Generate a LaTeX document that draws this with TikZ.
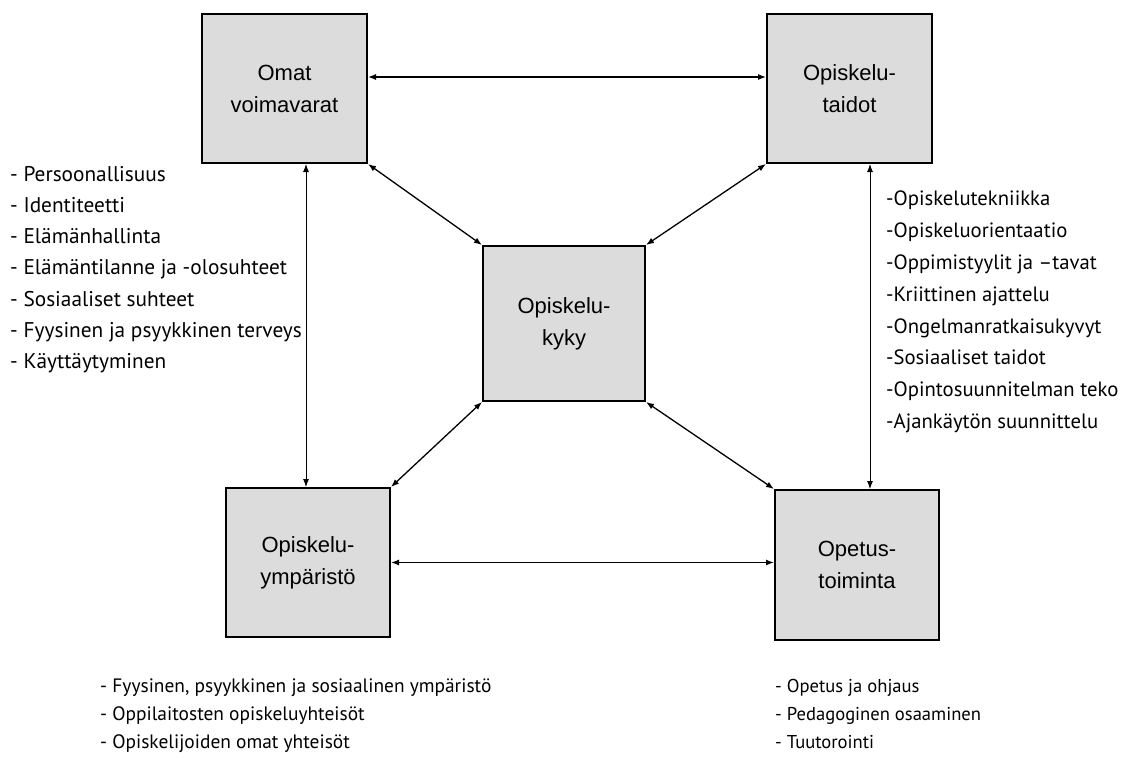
\documentclass[tikz,border=0pt]{standalone}
\usepackage{fontspec}
\setmainfont{Liberation Sans}
\newfontfamily\listfont{PT Sans}
\usetikzlibrary{arrows.meta}
\definecolor{boxgray}{RGB}{220,220,220}
\begin{document}
\begin{tikzpicture}[x=1pt,y=-1pt,
 box/.style={draw=black,line width=2pt,fill=boxgray,inner sep=0pt,align=center,font=\fontsize{22}{32}\selectfont},
 lst/.style={inner sep=0pt,align=left,anchor=north west},
 arr/.style={{Latex[length=8pt,width=6pt]}-{Latex[length=8pt,width=6pt]},line width=1.3pt},
 varr/.style={{Latex[length=8pt,width=6pt]}-{Latex[length=8pt,width=6pt]},line width=0.9pt}]
\useasboundingbox[fill=white] (0,0) rectangle (1128,758);
\node[box,minimum width=165pt,minimum height=149pt] (A) at (284.5,88.5) {Omat\\voimavarat};
\node[box,minimum width=165pt,minimum height=149pt] (B) at (849.5,88.5) {Opiskelu-\\taidot};
\node[box,minimum width=162pt,minimum height=155pt] (C) at (564,323.5) {Opiskelu-\\kyky};
\node[box,minimum width=164pt,minimum height=149pt] (D) at (308,562.5) {Opiskelu-\\ympäristö};
\node[box,minimum width=164pt,minimum height=150pt] (E) at (857,565) {Opetus-\\toiminta};
% connectors
\draw[arr] ([yshift=11.5pt]A.east) -- ([yshift=11.5pt]B.west);
\draw[arr] (D.east) -- (E.west |- D.east);
\draw[varr] (A.south -| 306,0) -- (D.north -| 306,0);
\draw[varr] (B.south -| 870,0) -- (E.north -| 870,0);
\draw[arr] (A.south east) -- (C.north west);
\draw[arr] (B.south west) -- (C.north east);
\draw[arr] (D.north east) -- (C.south west);
\draw[arr] (E.north west) -- (C.south east);
% lists
\node[lst,font=\listfont\fontsize{21.3}{31.2}\selectfont] (LA) at (10,166) {- Persoonallisuus\\- Identiteetti\\- Elämänhallinta\\- Elämäntilanne ja -olosuhteet\\- Sosiaaliset suhteet\\- Fyysinen ja psyykkinen terveys\\- Käyttäytyminen};
\node[lst,font=\listfont\fontsize{20.7}{31.9}\selectfont] (LB) at (886,190.5) {-Opiskelutekniikka\\-Opiskeluorientaatio\\-Oppimistyylit ja –tavat\\-Kriittinen ajattelu\\-Ongelmanratkaisukyvyt\\-Sosiaaliset taidot\\-Opintosuunnitelman teko\\-Ajankäytön suunnittelu};
\node[lst,font=\listfont\fontsize{19.4}{28}\selectfont] (LD) at (100,678.5) {- Fyysinen, psyykkinen ja sosiaalinen ympäristö\\- Oppilaitosten opiskeluyhteisöt\\- Opiskelijoiden omat yhteisöt};
\node[lst,font=\listfont\fontsize{18.6}{28}\selectfont] (LE) at (775,679) {- Opetus ja ohjaus\\- Pedagoginen osaaminen\\- Tuutorointi};
\end{tikzpicture}
\end{document}
